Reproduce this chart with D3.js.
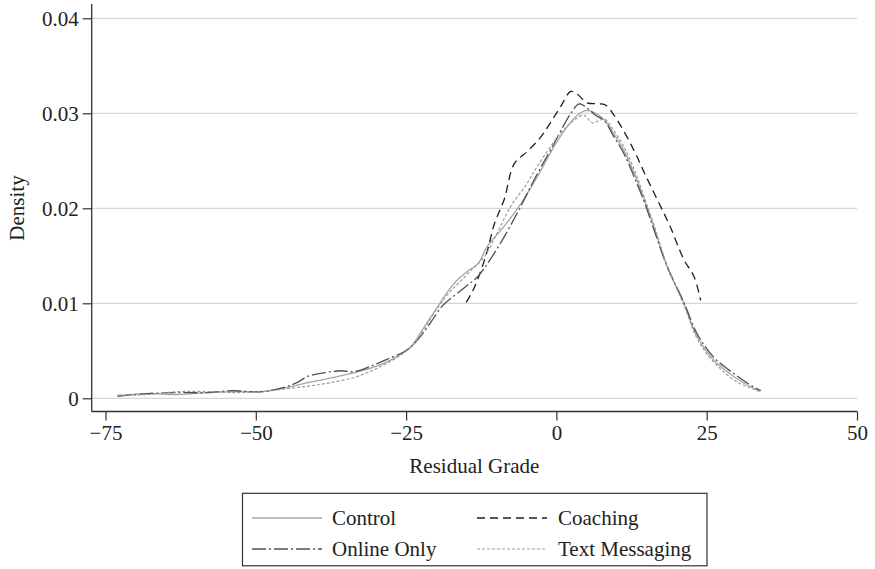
<!DOCTYPE html>
<html>
<head>
<meta charset="utf-8">
<script src="https://cdn.jsdelivr.net/npm/d3@7"></script>
<style>
  body { margin: 0; background: #fff; }
</style>
</head>
<body>
<div id="chart"></div>
<script>
// Kernel density estimates: [residual grade, density]
const control = [[-73,0.0003],[-68,0.0005],[-63,0.0004],[-58,0.0006],[-53,0.0007],[-49,0.0007],[-45,0.0011],[-41,0.0017],[-37,0.0022],[-33,0.0028],[-29,0.0036],[-26,0.0046],[-24,0.0056],[-22,0.0075],[-20,0.0094],[-18,0.0113],[-16.4,0.0125],[-14.5,0.0135],[-13,0.0142],[-11.5,0.016],[-8.7,0.0181],[-5.9,0.0205],[-3.2,0.0233],[-0.4,0.0265],[1.8,0.0286],[3.5,0.0298],[5,0.0303],[6.5,0.0300],[8,0.0293],[9.5,0.0279],[11.2,0.0261],[13,0.0236],[14.6,0.0209],[16.2,0.0181],[18.4,0.0139],[21.2,0.0100],[23.4,0.0065],[26.2,0.0040],[29.5,0.0023],[31.5,0.0015],[33.8,0.0007]];

const coaching = [[-15,0.0101],[-14,0.0112],[-13.1,0.0125],[-11.5,0.0155],[-10.3,0.0184],[-8.7,0.0209],[-7,0.0247],[-4.8,0.026],[-2.6,0.0275],[-1,0.029],[0.7,0.0307],[2.4,0.0323],[3.5,0.032],[5.1,0.0311],[6.8,0.031],[8.1,0.0309],[10.1,0.0293],[12.9,0.0261],[14.8,0.0235],[16.8,0.0209],[18.9,0.0181],[21.2,0.0146],[22.9,0.0128],[24,0.0103]];

const onlineOnly = [[-73,0.0002],[-68,0.0005],[-63,0.0006],[-58,0.0006],[-54,0.0008],[-49,0.0007],[-45,0.0012],[-43,0.0017],[-41.4,0.0023],[-38.5,0.0027],[-35.8,0.0029],[-33.6,0.0028],[-30.8,0.0034],[-27.5,0.0043],[-25,0.0050],[-23,0.0062],[-21,0.0079],[-19,0.0097],[-17,0.0108],[-15,0.0118],[-13.1,0.0128],[-10.3,0.0153],[-6.5,0.0195],[-3.7,0.023],[-0.4,0.0268],[2.4,0.03],[3.8,0.031],[5,0.0306],[6.5,0.0298],[8,0.0292],[9.5,0.0276],[11.2,0.0258],[13,0.0232],[14.6,0.0207],[16.2,0.0178],[18.4,0.0139],[21.2,0.0101],[23.4,0.0068],[26.2,0.0043],[29.5,0.0026],[32.8,0.0012],[34,0.0008]];

const textMessaging = [[-73,0.0003],[-68,0.0004],[-63,0.0007],[-58,0.0007],[-54,0.0006],[-49,0.0007],[-45,0.0010],[-41,0.0013],[-38,0.0016],[-33.6,0.0022],[-29.7,0.0032],[-26,0.0045],[-24,0.0055],[-22,0.0073],[-20,0.0093],[-18,0.0110],[-16,0.0123],[-14,0.0136],[-12,0.0149],[-10,0.0172],[-7.6,0.0202],[-5,0.0225],[-3.2,0.0244],[0.7,0.0279],[3,0.0293],[4.5,0.0298],[6,0.029],[7,0.0292],[8,0.0294],[9.2,0.0285],[11.2,0.0265],[13,0.0240],[14.6,0.0212],[16.2,0.0183],[18.4,0.0140],[21.2,0.0098],[23.4,0.0063],[26.2,0.0038],[30.1,0.0017],[33.5,0.0008]];

const seriesNames = ['Control', 'Coaching', 'Online Only', 'Text Messaging'];
const xTicks = [-75, -50, -25, 0, 25, 50];
const yTicks = [0, 0.01, 0.02, 0.03, 0.04];

const width = 875, height = 569;
const FONT = '"Liberation Serif", "Times New Roman", Times, serif';
const FS = '21px';

const svg = d3.select('#chart').append('svg')
  .attr('width', width)
  .attr('height', height)
  .attr('font-family', FONT);

const x = d3.scaleLinear().domain([-75, 50]).range([105.5, 857]);
const y = d3.scaleLinear().domain([0, 0.04]).range([398.3, 18.3]);

const axisLeftX = 91.7, axisBottomY = 411.5;

// gridlines
svg.append('g')
  .selectAll('line')
  .data(yTicks)
  .join('line')
    .attr('x1', axisLeftX).attr('x2', 857)
    .attr('y1', d => y(d)).attr('y2', d => y(d))
    .attr('stroke', '#d6d6d6')
    .attr('stroke-width', 1.2);

// y axis
const yAxis = svg.append('g')
  .attr('transform', `translate(${axisLeftX},0)`)
  .call(d3.axisLeft(y).tickValues(yTicks).tickSize(9).tickPadding(4)
    .tickFormat(d => d === 0 ? '0' : d3.format('.2f')(d)));
yAxis.attr('font-family', FONT).attr('font-size', FS);
yAxis.select('.domain').remove();
yAxis.selectAll('.tick line').attr('stroke', '#333').attr('stroke-width', 1.2);
yAxis.selectAll('.tick text').attr('fill', '#222');

// x axis
const xAxis = svg.append('g')
  .attr('transform', `translate(0,${axisBottomY})`)
  .call(d3.axisBottom(x).tickValues(xTicks).tickSize(9).tickPadding(5));
xAxis.attr('font-family', FONT).attr('font-size', FS);
xAxis.select('.domain').remove();
xAxis.selectAll('.tick line').attr('stroke', '#333').attr('stroke-width', 1.2);
xAxis.selectAll('.tick text').attr('fill', '#222');

// axis lines
svg.append('line')
  .attr('x1', axisLeftX).attr('x2', axisLeftX)
  .attr('y1', 4).attr('y2', axisBottomY)
  .attr('stroke', '#333').attr('stroke-width', 1.3);
svg.append('line')
  .attr('x1', axisLeftX).attr('x2', 857)
  .attr('y1', axisBottomY).attr('y2', axisBottomY)
  .attr('stroke', '#333').attr('stroke-width', 1.3);

// axis titles
svg.append('text')
  .attr('x', (axisLeftX + 857) / 2)
  .attr('y', 473)
  .attr('text-anchor', 'middle')
  .attr('font-size', FS)
  .attr('fill', '#222')
  .text('Residual Grade');

svg.append('text')
  .attr('transform', 'translate(24,208) rotate(-90)')
  .attr('text-anchor', 'middle')
  .attr('font-size', FS)
  .attr('fill', '#222')
  .text('Density');

// curves
const styles = [
  { stroke: '#a6a6a6', dash: null, w: 1.3 },
  { stroke: '#1e1e1e', dash: '8,5', w: 1.3 },
  { stroke: '#505050', dash: '14,3,2,3', w: 1.3 },
  { stroke: '#9a9a9a', dash: '3,2', w: 1.2 }
];
const series = [control, coaching, onlineOnly, textMessaging];

const line = d3.line()
  .x(d => x(d[0]))
  .y(d => y(d[1]))
  .curve(d3.curveCatmullRom.alpha(0.5));

svg.append('g')
  .selectAll('path')
  .data(series)
  .join('path')
    .attr('d', line)
    .attr('fill', 'none')
    .attr('stroke', (d, i) => styles[i].stroke)
    .attr('stroke-width', (d, i) => styles[i].w)
    .attr('stroke-dasharray', (d, i) => styles[i].dash);

// legend
const legend = svg.append('g');
legend.append('rect')
  .attr('x', 242.5).attr('y', 493.3)
  .attr('width', 464.5).attr('height', 72.5)
  .attr('fill', '#fff')
  .attr('stroke', '#333')
  .attr('stroke-width', 1.2);

const legendPos = [
  { x: 252, y: 518 },
  { x: 477, y: 518 },
  { x: 252, y: 549 },
  { x: 477, y: 549 }
];

const item = legend.selectAll('g.item')
  .data(seriesNames)
  .join('g')
    .attr('class', 'item')
    .attr('transform', (d, i) => `translate(${legendPos[i].x},${legendPos[i].y})`);

item.append('line')
  .attr('x1', 0).attr('x2', 70)
  .attr('y1', 0).attr('y2', 0)
  .attr('stroke', (d, i) => styles[i].stroke)
  .attr('stroke-width', (d, i) => styles[i].w)
  .attr('stroke-dasharray', (d, i) => styles[i].dash);

item.append('text')
  .attr('x', (d, i) => i % 2 === 0 ? 80 : 81)
  .attr('dy', '0.35em')
  .attr('font-size', FS)
  .attr('fill', '#222')
  .text(d => d);
</script>
</body>
</html>
